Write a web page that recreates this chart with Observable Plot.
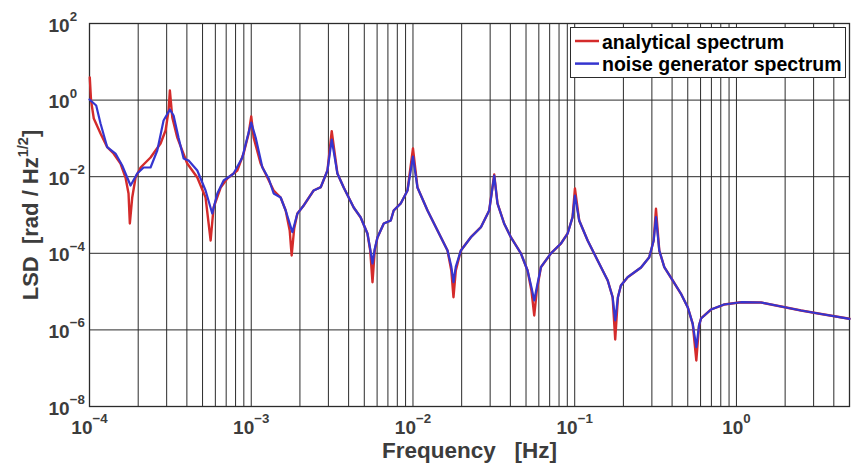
<!DOCTYPE html>
<html><head><meta charset="utf-8">
<script src="https://cdn.jsdelivr.net/npm/d3@7"></script>
<script src="https://cdn.jsdelivr.net/npm/@observablehq/plot@0.6"></script>
<style>
html,body{margin:0;padding:0;background:#fff;}
#chart{width:853px;height:464px;}
</style></head><body><div id="chart"></div>
<script>
// ---- data ----
const freqAnalytical = [
1.004e-4,1.022e-4,1.063e-4,1.17e-4,1.287e-4,1.408e-4,1.555e-4,1.67e-4,1.743e-4,1.776e-4,
1.837e-4,1.927e-4,2.069e-4,2.385e-4,2.75e-4,2.953e-4,3.083e-4,3.14e-4,3.25e-4,3.49e-4,
4.02e-4,4.64e-4,5.22e-4,5.61e-4,5.85e-4,6.47e-4,7.11e-4,8.2e-4,8.97e-4,9.64e-4,
1e-3,1.035e-3,1.143e-3,1.258e-3,1.376e-3,1.52e-3,1.633e-3,1.729e-3,1.778e-3,1.843e-3,
1.929e-3,2.11e-3,2.43e-3,2.69e-3,2.96e-3,3.145e-3,3.41e-3,3.73e-3,4.3e-3,4.75e-3,
5.23e-3,5.44e-3,5.62e-3,5.8e-3,6.03e-3,6.6e-3,7.29e-3,7.6e-3,8.4e-3,9.25e-3,
1e-2,1.066e-2,1.23e-2,1.418e-2,1.635e-2,1.726e-2,1.78e-2,1.84e-2,1.977e-2,2.28e-2,
2.63e-2,2.96e-2,3.18e-2,3.33e-2,3.66e-2,4.03e-2,4.65e-2,5.11e-2,5.4e-2,5.62e-2,
5.83e-2,6.18e-2,7.12e-2,8.22e-2,9.04e-2,9.7e-2,0.1003,0.1066,0.1202,0.1386,
0.16,0.1716,0.178,0.185,0.193,0.2126,0.257,0.289,0.3077,0.318,
0.3334,0.358,0.4036,0.454,0.4995,0.5366,0.5648,0.587,0.604,0.6965,
0.838,1.068,1.42,1.888,2.51,3.34,5.0];
const lsdAnalytical = [
3.9,0.98,0.33,0.134,0.0589,0.0403,0.0221,0.00953,0.00364,6e-4,
0.00286,0.00953,0.0174,0.0317,0.0736,0.161,0.535,1.78,0.352,0.105,
0.0221,0.00953,0.00286,2.16e-4,0.00157,0.00523,0.00897,0.0145,0.0403,0.134,
0.373,0.105,0.0221,0.00953,0.00436,0.00286,0.00131,3.94e-4,8.77e-5,4.44e-4,
0.00109,0.00177,0.00436,0.00532,0.0145,0.154,0.0121,0.00523,0.00157,8.61e-4,
3.29e-4,1.18e-4,1.76e-5,1.18e-4,2.59e-4,6e-4,7.18e-4,0.00131,0.002,0.00436,
0.0545,0.00523,0.00131,3.94e-4,1.18e-4,3.56e-5,7.14e-6,3.56e-5,1.18e-4,2.63e-4,
4.81e-4,0.00131,0.0114,0.002,6e-4,2.63e-4,9.9e-5,3.56e-5,1.07e-5,2.38e-6,
1.07e-5,4.34e-5,9.9e-5,1.8e-4,3.29e-4,8.77e-4,0.00492,7.18e-4,2.16e-4,6.49e-5,
1.95e-5,7.14e-6,5.61e-7,7.14e-6,1.44e-5,2.38e-5,4.26e-5,7.91e-5,2.16e-4,0.00145,
1.18e-4,4.34e-5,1.95e-5,8.77e-6,3.92e-6,1.44e-6,1.59e-7,1.3e-6,1.99e-6,3.41e-6,
4.6e-6,5.28e-6,5.19e-6,4.08e-6,3.21e-6,2.6e-6,1.95e-6];

const freqNoise = [
1.0e-4,1.10e-4,1.17e-4,1.287e-4,1.448e-4,1.593e-4,1.794e-4,1.973e-4,2.159e-4,2.385e-4,
2.624e-4,2.87e-4,3.14e-4,3.31e-4,3.55e-4,3.82e-4,4.10e-4,4.64e-4,5.22e-4,5.74e-4,
6.17e-4,6.75e-4,7.78e-4,8.81e-4,9.46e-4,1.0e-3,1.065e-3,1.172e-3,1.282e-3,1.376e-3,
1.52e-3,1.633e-3,1.796e-3,1.929e-3,2.11e-3,2.43e-3,2.69e-3,2.96e-3,3.145e-3,3.41e-3,
3.73e-3,4.3e-3,4.75e-3,5.23e-3,5.44e-3,5.62e-3,5.8e-3,6.03e-3,6.6e-3,7.29e-3,
7.6e-3,8.4e-3,9.25e-3,1.0e-2,1.066e-2,1.23e-2,1.418e-2,1.635e-2,1.726e-2,1.78e-2,
1.84e-2,1.977e-2,2.28e-2,2.63e-2,2.96e-2,3.18e-2,3.33e-2,3.66e-2,4.03e-2,4.65e-2,
5.11e-2,5.4e-2,5.62e-2,5.83e-2,6.18e-2,7.12e-2,8.22e-2,9.04e-2,9.7e-2,0.1003,
0.1066,0.1202,0.1386,0.16,0.1716,0.178,0.185,0.193,0.2126,0.257,
0.289,0.3077,0.318,0.3334,0.358,0.4036,0.454,0.4995,0.5366,0.5648,
0.587,0.604,0.6965,0.838,1.068,1.42,1.888,2.51,3.34,5.0];
const lsdNoise = [
1.04,0.723,0.245,0.0589,0.0403,0.0196,0.00589,0.0121,0.0174,0.0174,
0.0483,0.293,0.569,0.396,0.105,0.0299,0.0265,0.0145,0.00436,0.00109,
0.00364,0.00796,0.0121,0.0317,0.105,0.26,0.105,0.0174,0.00897,0.00364,
0.00286,0.00131,3.56e-4,0.00109,0.00177,0.00436,0.00532,0.0145,0.0936,0.0121,
0.00523,0.00157,8.61e-4,3.29e-4,1.3e-4,5.42e-5,1.3e-4,2.59e-4,6.0e-4,7.18e-4,
0.00131,0.002,0.00436,0.0337,0.00523,0.00131,3.94e-4,1.18e-4,4.5e-5,1.76e-5,
4.5e-5,1.18e-4,2.63e-4,4.81e-4,0.00131,0.0107,0.002,6.0e-4,2.63e-4,9.9e-5,
3.56e-5,1.3e-5,5.86e-6,1.3e-5,4.34e-5,9.9e-5,1.8e-4,3.29e-4,8.77e-4,0.00323,
7.18e-4,2.16e-4,6.49e-5,1.95e-5,7.14e-6,1.76e-6,7.14e-6,1.44e-5,2.38e-5,4.26e-5,
7.91e-5,2.16e-4,8.77e-4,1.18e-4,4.34e-5,1.95e-5,8.77e-6,3.92e-6,1.44e-6,3.54e-7,
1.3e-6,1.99e-6,3.41e-6,4.6e-6,5.28e-6,5.19e-6,4.08e-6,3.21e-6,2.6e-6,1.95e-6];

const xTicks = [1e-4, 1e-3, 1e-2, 1e-1, 1];
const xTickExp = ["\u22124", "\u22123", "\u22122", "\u22121", "0"];
const yTicks = [1e-8, 1e-6, 1e-4, 1e-2, 1, 1e2];
const yTickExp = ["\u22128", "\u22126", "\u22124", "\u22122", "0", "2"];
const xGridLines = [
1e-4,2e-4,3e-4,4e-4,5e-4,6e-4,7e-4,8e-4,9e-4,
1e-3,2e-3,3e-3,4e-3,5e-3,6e-3,7e-3,8e-3,9e-3,
1e-2,2e-2,3e-2,4e-2,5e-2,6e-2,7e-2,8e-2,9e-2,
1e-1,2e-1,3e-1,4e-1,5e-1,6e-1,7e-1,8e-1,9e-1,
1,2,3,4,5];
const seriesNames = ["analytical spectrum", "noise generator spectrum"];
const seriesColors = ["#d42b2b", "#3535cf"];
const xTitle = "Frequency\u00A0\u00A0\u00A0[Hz]";
const yTitle = "LSD\u00A0\u00A0[rad / Hz^{1/2}]";

// ---- build ----
const FONT = "'Liberation Sans', Arial, Helvetica, sans-serif";
const analytical = freqAnalytical.map((f, i) => ({f, v: lsdAnalytical[i]}));
const noise = freqNoise.map((f, i) => ({f, v: lsdNoise[i]}));
const ink = "#3c3c3c";

const chart = Plot.plot({
  width: 853, height: 464,
  marginLeft: 89, marginRight: 4, marginTop: 23, marginBottom: 58,
  x: {type: "log", domain: [1e-4, 5], axis: null},
  y: {type: "log", domain: [1e-8, 1e2], axis: null},
  style: {fontFamily: FONT, background: "#fff", overflow: "visible"},
  marks: [
    Plot.ruleX(xGridLines, {x: d => d, stroke: "#2b2b2b", strokeWidth: 1}),
    Plot.ruleY(yTicks, {y: d => d, stroke: "#2b2b2b", strokeWidth: 1}),
    Plot.frame({stroke: "#2b2b2b", strokeWidth: 1.3}),
    Plot.line(analytical, {x: "f", y: "v", stroke: seriesColors[0], strokeWidth: 2.4}),
    Plot.line(noise, {x: "f", y: "v", stroke: seriesColors[1], strokeWidth: 2.2}),
    Plot.text(xTicks, {x: d => d, frameAnchor: "bottom", dy: 27, lineAnchor: "bottom", textAnchor: "middle",
      text: (d, i) => "10^{" + xTickExp[i] + "}", fontSize: 19, fontWeight: "bold", fill: ink}),
    Plot.text(yTicks, {y: d => d, frameAnchor: "left", dx: -41, dy: 8, lineAnchor: "bottom", textAnchor: "start",
      text: (d, i) => "10^{" + yTickExp[i] + "}", fontSize: 19, fontWeight: "bold", fill: ink}),
    Plot.text([xTitle], {frameAnchor: "bottom", dy: 51, lineAnchor: "bottom", textAnchor: "middle",
      text: d => d, fontSize: 22.5, fontWeight: "bold", fill: ink}),
    Plot.text([yTitle], {frameAnchor: "left", dx: -52, rotate: -90, lineAnchor: "bottom", textAnchor: "middle",
      text: d => d, fontSize: 22, fontWeight: "bold", fill: ink})
  ]
});
document.getElementById("chart").appendChild(chart);

// superscripts: "a^{b}c" -> a<tspan sup>b</tspan><tspan>c</tspan>
const NS = "http://www.w3.org/2000/svg";
chart.querySelectorAll("text").forEach(t => {
  const s = t.textContent;
  const m = s.match(/^(.*?)\^\{([^}]*)\}(.*)$/);
  if (!m) return;
  const fs = parseFloat(getComputedStyle(t).fontSize) || 19;
  const raise = fs * (fs < 21 ? 0.55 : 0.42);
  t.textContent = "";
  t.appendChild(document.createTextNode(m[1]));
  const sup = document.createElementNS(NS, "tspan");
  sup.setAttribute("dy", -raise);
  sup.setAttribute("font-size", fs * (fs < 21 ? 0.7 : 0.66));
  sup.textContent = m[2];
  t.appendChild(sup);
  if (m[3]) {
    const rest = document.createElementNS(NS, "tspan");
    rest.setAttribute("dy", raise);
    rest.textContent = m[3];
    t.appendChild(rest);
  }
});

// legend box (top right, inside the frame)
const lg = d3.select(chart).append("g").attr("font-family", FONT).attr("text-anchor", "start");
lg.append("rect").attr("x", 570.5).attr("y", 27.5).attr("width", 275).attr("height", 50)
  .attr("fill", "#fff").attr("stroke", "#2b2b2b").attr("stroke-width", 1);
seriesNames.forEach((name, i) => {
  const yy = 41 + i * 22.6;
  lg.append("line").attr("x1", 575).attr("x2", 599).attr("y1", yy).attr("y2", yy)
    .attr("stroke", seriesColors[i]).attr("stroke-width", 2.5);
  lg.append("text").attr("x", 602).attr("y", yy + 7.5).attr("font-size", 19.5)
    .attr("font-weight", "bold").attr("fill", "#000").attr("text-anchor", "start").text(name);
});
</script></body></html>
